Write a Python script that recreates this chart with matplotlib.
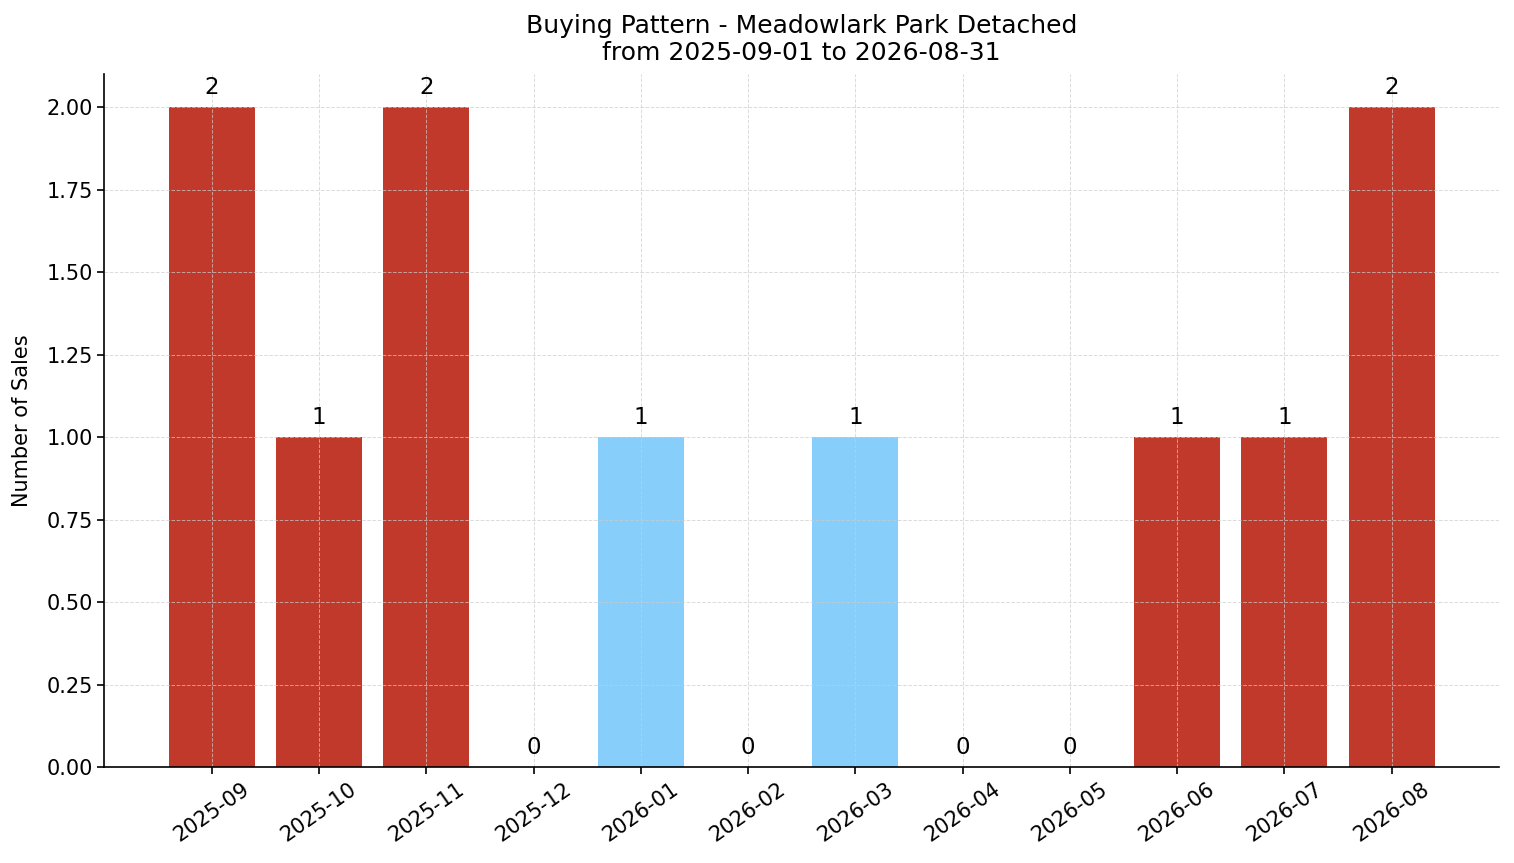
import matplotlib.pyplot as plt

meses = ['2025-09', '2025-10', '2025-11', '2025-12', '2026-01', '2026-02',
         '2026-03', '2026-04', '2026-05', '2026-06', '2026-07', '2026-08']
ventas = [2, 1, 2, 0, 1, 0, 1, 0, 0, 1, 1, 2]
colores = ['#C0392B', '#C0392B', '#C0392B', '#C0392B', '#87CEFA', '#C0392B',
           '#87CEFA', '#C0392B', '#C0392B', '#C0392B', '#C0392B', '#C0392B']

fig, ax = plt.subplots(figsize=(15.14, 8.63), dpi=100)
fig.subplots_adjust(left=0.069, right=0.99, top=0.914, bottom=0.111)

barras = ax.bar(meses, ventas, color=colores, width=0.8)
for b, v in zip(barras, ventas):
    ax.text(b.get_x() + b.get_width() / 2, v + 0.025, str(v),
            ha='center', va='bottom', fontsize=16.5)

ax.set_title('Buying Pattern - Meadowlark Park Detached\nfrom 2025-09-01 to 2026-08-31',
             fontsize=18, pad=10)
ax.set_ylabel('Number of Sales', fontsize=15, labelpad=10)
ax.set_ylim(0, 2.1)
ax.set_xlim(-1, 12)
ax.grid(True, linestyle='--', color='#cccccc', alpha=0.7, linewidth=0.7)
ax.spines['top'].set_visible(False)
ax.spines['right'].set_visible(False)
for s in ['left', 'bottom']:
    ax.spines[s].set_linewidth(1.2)
ax.tick_params(axis='x', labelsize=15, rotation=35, length=5, width=1.2)
ax.tick_params(axis='y', labelsize=15, length=5, width=1.2)
ax.yaxis.set_major_formatter(plt.FormatStrFormatter('%.2f'))

fig.savefig('out.png', dpi=100)
